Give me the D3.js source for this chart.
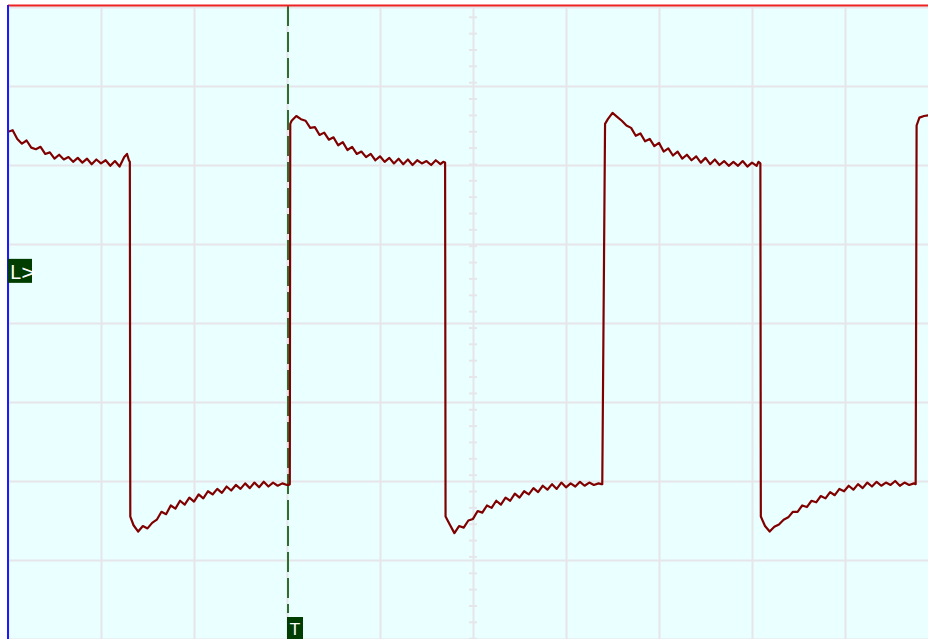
<!DOCTYPE html>
<html><head><meta charset="utf-8">
<script src="https://cdn.jsdelivr.net/npm/d3@7"></script>
<style>body{margin:0;background:#fff;overflow:hidden}svg{display:block}</style>
</head><body><svg id="c" width="928" height="639"></svg>
<script>
// Sample times (divisions) and channel values (divisions, 0 = centre)
const timeDiv = [
  0.00,0.05,0.10,0.15,0.20,0.25,0.30,0.35,0.40,0.45,0.50,0.55,0.60,0.65,0.70,0.75,0.80,0.85,0.90,0.95,1.00,1.05,1.10,1.15,1.20,1.25,1.28,1.30,1.31,
  1.315,1.35,1.40,1.45,1.50,1.55,1.60,1.65,1.70,1.75,1.80,1.85,1.90,1.95,2.00,2.05,2.10,2.15,2.20,2.25,2.30,2.35,2.40,2.45,2.50,2.55,2.60,2.65,2.70,2.75,2.80,2.85,2.90,2.95,3.00,3.02,3.03,
  3.035,3.05,3.10,3.15,3.20,3.25,3.30,3.35,3.40,3.45,3.50,3.55,3.60,3.65,3.70,3.75,3.80,3.85,3.90,3.95,4.00,4.05,4.10,4.15,4.20,4.25,4.30,4.35,4.40,4.45,4.50,4.55,4.60,4.65,4.68,4.70,
  4.705,4.75,4.80,4.85,4.90,4.95,5.00,5.05,5.10,5.15,5.20,5.25,5.30,5.35,5.40,5.45,5.50,5.55,5.60,5.65,5.70,5.75,5.80,5.85,5.90,5.95,6.00,6.05,6.10,6.15,6.20,6.25,6.30,6.35,6.38,6.39,
  6.42,6.45,6.50,6.55,6.60,6.65,6.70,6.75,6.80,6.85,6.90,6.95,7.00,7.05,7.10,7.15,7.20,7.25,7.30,7.35,7.40,7.45,7.50,7.55,7.60,7.65,7.70,7.75,7.80,7.85,7.90,7.95,8.00,8.05,8.07,8.09,
  8.095,8.14,8.19,8.24,8.29,8.34,8.39,8.44,8.49,8.54,8.59,8.64,8.69,8.74,8.79,8.84,8.89,8.94,8.99,9.04,9.09,9.14,9.19,9.24,9.29,9.34,9.39,9.44,9.49,9.54,9.59,9.64,9.69,9.74,9.76,
  9.77,9.80,9.85,9.90,9.95,10.00
];
const ch1Volts = [
  2.42,2.44,2.33,2.27,2.31,2.22,2.20,2.23,2.14,2.16,2.08,2.13,2.07,2.10,2.04,2.09,2.03,2.08,2.01,2.07,2.02,2.06,1.99,2.05,1.98,2.10,2.14,2.06,2.04,
  -2.45,-2.56,-2.64,-2.57,-2.60,-2.53,-2.49,-2.39,-2.42,-2.31,-2.35,-2.25,-2.30,-2.21,-2.26,-2.17,-2.22,-2.13,-2.17,-2.10,-2.15,-2.07,-2.12,-2.05,-2.10,-2.03,-2.09,-2.02,-2.08,-2.01,-2.07,-2.02,-2.06,-2.03,-2.05,-2.05,-2.04,
  2.52,2.56,2.62,2.58,2.56,2.47,2.48,2.38,2.41,2.32,2.35,2.25,2.29,2.19,2.23,2.14,2.17,2.10,2.14,2.06,2.11,2.04,2.09,2.02,2.08,2.01,2.07,2.00,2.06,2.02,2.05,2.00,2.06,2.01,2.04,2.03,
  -2.45,-2.55,-2.66,-2.57,-2.59,-2.50,-2.48,-2.38,-2.40,-2.31,-2.34,-2.25,-2.30,-2.21,-2.25,-2.16,-2.21,-2.13,-2.17,-2.09,-2.14,-2.06,-2.11,-2.04,-2.10,-2.02,-2.08,-2.03,-2.07,-2.01,-2.06,-2.02,-2.05,-2.03,-2.04,-2.04,
  2.52,2.58,2.66,2.61,2.56,2.50,2.47,2.37,2.40,2.30,2.33,2.24,2.28,2.17,2.21,2.12,2.17,2.08,2.13,2.06,2.11,2.03,2.09,2.01,2.07,2.00,2.05,1.99,2.04,1.99,2.05,1.98,2.03,1.99,2.04,2.02,
  -2.45,-2.57,-2.64,-2.58,-2.55,-2.49,-2.46,-2.39,-2.39,-2.31,-2.33,-2.25,-2.27,-2.19,-2.22,-2.14,-2.18,-2.10,-2.13,-2.06,-2.11,-2.04,-2.09,-2.02,-2.07,-2.01,-2.06,-2.02,-2.05,-2.00,-2.06,-2.02,-2.05,-2.03,-2.04,
  2.50,2.60,2.62,2.63,2.62,2.60
];
const xGridDiv = [0,1,2,3,4,5,6,7,8,9,10];
const yGridDiv = [-4,-3,-2,-1,0,1,2,3,4];
const minorStart = 3.87;
const minorStep = 0.207;
const triggerTime = 3.0;
const triggerLevel = 0.66;
const levelLabel = "L>";
const triggerLabel = "T";
const titleText = "Channel A, probe (x1) - square wave, typical display";

(function () {
const svg = d3.select("#c");
const W = 928, H = 639;
const pLeft = 8, pTop = 7, divW = 93, divH = 79;
const x = d3.scaleLinear().domain([0, 10]).range([pLeft, pLeft + 10 * divW]);
const y = d3.scaleLinear().domain([-4, 4]).range([pTop + 8 * divH, pTop]);

svg.append("rect").attr("width", W).attr("height", H).attr("fill", "#ffffff");

// title (only its lowest part falls inside the picture, as in the source)
svg.append("text").attr("x", 40).attr("y", -3)
  .attr("font-family", "Liberation Sans, Arial, sans-serif").attr("font-size", 16).attr("font-weight", "bold")
  .attr("fill", "#000").text(titleText);

svg.append("defs").append("clipPath").attr("id", "pc").append("rect")
  .attr("x", pLeft).attr("y", pTop - 1).attr("width", W - pLeft).attr("height", H - pTop + 1);
const plot = svg.append("g").attr("clip-path", "url(#pc)");

plot.append("rect").attr("x", pLeft).attr("y", pTop - 1).attr("width", W - pLeft).attr("height", H - pTop + 1)
  .attr("fill", "#eaffff");

const gridColor = "#e6e6ea";
const gx = plot.append("g").attr("transform", `translate(0,${y(-4)})`)
  .call(d3.axisBottom(x).tickValues(xGridDiv).tickSize(-(y(-4) - y(4))).tickFormat(""));
gx.select(".domain").remove();
gx.selectAll("line").attr("stroke", gridColor).attr("stroke-width", 2);
const gy = plot.append("g").attr("transform", `translate(${x(0)},0)`)
  .call(d3.axisRight(y).tickValues(yGridDiv).tickSize(x(10) - x(0)).tickFormat(""));
gy.select(".domain").remove();
gy.selectAll("line").attr("stroke", gridColor).attr("stroke-width", 2);

// minor ticks on the vertical centre line
const yMinor = d3.range(minorStart, -4, -minorStep);
plot.append("g").selectAll("line").data(yMinor).join("line")
  .attr("x1", x(5) - 4).attr("x2", x(5) + 4).attr("y1", d => y(d)).attr("y2", d => y(d))
  .attr("stroke", gridColor).attr("stroke-width", 2);

// trigger dashed line
const tx = x(triggerTime) + 1;
plot.append("line")
  .attr("x1", tx).attr("x2", tx)
  .attr("y1", pTop - 1).attr("y2", 613)
  .attr("stroke", "#2e6e2e").attr("stroke-width", 2).attr("stroke-dasharray", "20,6");

// trace
const pts = timeDiv.map((t, i) => [t, ch1Volts[i]]);
plot.append("path").datum(pts)
  .attr("d", d3.line().x(d => x(d[0])).y(d => y(d[1])))
  .attr("fill", "none").attr("stroke", "#800000").attr("stroke-width", 2.2).attr("stroke-linejoin", "round");

// borders
svg.append("line").attr("x1", pLeft).attr("x2", W).attr("y1", pTop - 1.5).attr("y2", pTop - 1.5)
  .attr("stroke", "#ee2222").attr("stroke-width", 2);
svg.append("line").attr("x1", pLeft).attr("x2", pLeft).attr("y1", pTop - 2).attr("y2", H)
  .attr("stroke", "#1a1aff").attr("stroke-width", 2);

// level marker
const ly = y(triggerLevel);
svg.append("rect").attr("x", pLeft).attr("y", ly - 12).attr("width", 24).attr("height", 24).attr("fill", "#003d00");
svg.append("text").attr("x", pLeft + 2).attr("y", ly + 8)
  .attr("font-family", "DejaVu Sans, sans-serif").attr("font-size", 19).attr("fill", "#ffffff").text(levelLabel);

// trigger marker
svg.append("rect").attr("x", tx - 1).attr("y", 617).attr("width", 16).attr("height", 22).attr("fill", "#003d00");
svg.append("text").attr("x", tx + 7).attr("y", 635).attr("text-anchor", "middle")
  .attr("font-family", "DejaVu Sans, sans-serif").attr("font-size", 16).attr("fill", "#ffffff").text(triggerLabel);
})();
</script></body></html>
